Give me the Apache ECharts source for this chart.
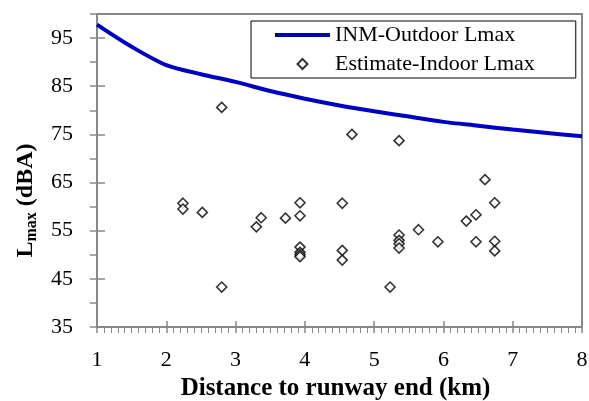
<!DOCTYPE html>
<html>
<head>
<meta charset="utf-8">
<script src="https://cdn.jsdelivr.net/npm/echarts@6/dist/echarts.min.js"></script>
<style>
  html, body { margin: 0; padding: 0; background: #fff; }
  #main { width: 589px; height: 401px; }
</style>
</head>
<body>
<div id="main"></div>
<script>
// INM outdoor Lmax curve
const inmDistance = [1, 1.5, 2, 2.5, 3, 3.5, 4, 4.5, 5, 5.5, 6, 6.5, 7, 7.5, 8];
const inmLmax = [97.8, 93.2, 89.4, 87.5, 85.9, 84.0, 82.4, 81.0, 79.8, 78.7, 77.6, 76.8, 76.0, 75.3, 74.6];

// estimated indoor Lmax points
const indoorDistance = [
  2.24, 2.24, 2.52, 2.80, 2.80, 3.30, 3.37, 3.72,
  3.93, 3.93, 3.93, 3.93, 3.93, 3.93,
  4.54, 4.54, 4.54, 4.68, 5.23,
  5.36, 5.36, 5.36, 5.36, 5.36,
  5.64, 5.92, 6.33, 6.47, 6.47, 6.60, 6.74, 6.74, 6.74,
];
const indoorLmax = [
  60.7, 59.5, 58.8, 80.6, 43.3, 55.8, 57.7, 57.6,
  60.8, 58.1, 51.6, 50.5, 50.0, 49.6,
  60.7, 50.9, 48.9, 75.0, 43.3,
  73.7, 54.1, 53.0, 52.3, 51.4,
  55.2, 52.7, 57.0, 58.3, 52.7, 65.6, 60.8, 52.8, 50.8,
];

const font = 'Liberation Serif';
const axisGrey = '#888888';

const myChart = echarts.init(document.getElementById('main'));

const option = {
  animation: false,
  backgroundColor: '#fff',
  textStyle: { fontFamily: font, color: '#000' },
  grid: {
    left: 97,
    right: 7,
    top: 14,
    bottom: 74,
    outerBoundsMode: 'none',
    containLabel: false,
    show: true,
    borderColor: axisGrey,
    borderWidth: 2,
  },
  legend: {
    left: 251,
    top: 21,
    orient: 'vertical',
    itemWidth: 55,
    itemHeight: 10,
    itemGap: 7,
    padding: [3, 41, 3, 22],
    borderColor: '#000',
    borderWidth: 1,
    backgroundColor: '#fff',
    textStyle: { fontFamily: font, fontSize: 22, color: '#000' },
    data: [
      { name: 'INM-Outdoor Lmax', itemStyle: { opacity: 0 }, lineStyle: { width: 4, color: '#0000c0' } },
      { name: 'Estimate-Indoor Lmax', icon: 'path://M5,0 L10,5 L5,10 L0,5 Z' },
    ],
  },
  xAxis: [
    {
      type: 'value',
      min: 1,
      max: 8,
      interval: 1,
      name: 'Distance to runway end (km)',
      nameLocation: 'middle',
      nameGap: 47,
      nameTextStyle: { fontFamily: font, fontSize: 25, fontWeight: 'bold', color: '#000', padding: [0, 8, 0, 0] },
      axisLine: { show: true, lineStyle: { color: axisGrey, width: 2 } },
      axisTick: { show: true, inside: false, length: 6, lineStyle: { color: axisGrey, width: 1.5 } },
      minorTick: { show: true, splitNumber: 10, length: 6, lineStyle: { color: axisGrey, width: 1 } },
      axisLabel: { fontFamily: font, fontSize: 22, color: '#000', margin: 22 },
      splitLine: { show: false },
    },
    {
      type: 'value',
      min: 1,
      max: 8,
      interval: 1,
      position: 'bottom',
      axisLine: { show: false },
      axisTick: { show: true, inside: true, length: 6, lineStyle: { color: axisGrey, width: 1.5 } },
      axisLabel: { show: false },
      splitLine: { show: false },
    },
  ],
  yAxis: [
    {
      type: 'value',
      min: 35,
      max: 100,
      interval: 5,
      position: 'left',
      name: '{L|L}{s|max}{L| (dBA)}',
      nameLocation: 'middle',
      nameGap: 56,
      nameRotate: 90,
      nameTextStyle: {
        padding: [0, 60, 0, 0],
        rich: {
          L: { fontFamily: font, fontSize: 24, fontWeight: 'bold', color: '#000' },
          s: { fontFamily: font, fontSize: 16, fontWeight: 'bold', color: '#000', padding: [13, 0, 0, 0] },
        },
      },
      axisLine: { show: true, lineStyle: { color: axisGrey, width: 2 } },
      axisTick: { show: true, inside: false, length: 7, lineStyle: { color: axisGrey, width: 1.5 } },
      axisLabel: {
        fontFamily: font,
        fontSize: 22,
        color: '#000',
        margin: 24,
        formatter: (v) => ((v - 35) % 10 === 0 && v < 100 ? String(v) : ''),
      },
      splitLine: { show: false },
    },
    {
      type: 'value',
      min: 35,
      max: 100,
      interval: 10,
      position: 'left',
      axisLine: { show: false },
      axisTick: { show: true, inside: true, length: 8, lineStyle: { color: axisGrey, width: 1.5 } },
      axisLabel: { show: false },
      splitLine: { show: false },
    },
  ],
  series: [
    {
      name: 'INM-Outdoor Lmax',
      type: 'line',
      xAxisIndex: 0,
      yAxisIndex: 0,
      smooth: 0.3,
      symbol: 'none',
      data: inmDistance.map((d, i) => [d, inmLmax[i]]),
      lineStyle: { color: '#0000c0', width: 4 },
      itemStyle: { color: '#0000c0' },
      z: 3,
    },
    {
      name: 'Estimate-Indoor Lmax',
      type: 'scatter',
      xAxisIndex: 0,
      yAxisIndex: 0,
      symbol: 'diamond',
      symbolSize: 10,
      data: indoorDistance.map((d, i) => [d, indoorLmax[i]]),
      itemStyle: { color: '#fff', borderColor: '#000', borderWidth: 1.6 },
      z: 4,
    },
  ],
};

myChart.setOption(option);
</script>
</body>
</html>
